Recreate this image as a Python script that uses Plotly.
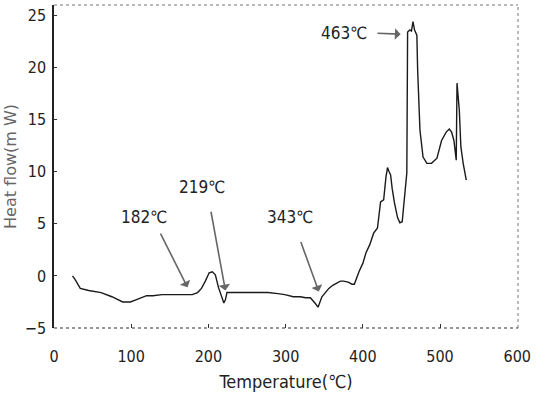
import plotly.graph_objects as go

temperature = [24, 27, 34, 45, 61, 75, 89, 99, 106, 112, 120, 128, 140, 160, 179, 186, 191, 196,
               201, 205, 209, 213, 217, 220, 222, 224, 230, 240, 260, 277, 290, 299, 310, 319,
               326, 332, 338, 342, 347, 352, 356, 361, 366, 371, 375, 381, 386, 389, 395, 400,
               404, 409, 414, 419, 423, 427, 430, 432, 434, 436, 438, 441, 445, 448, 451, 454,
               457, 458, 461, 463, 465, 467, 470, 471, 473, 474, 478, 483, 489, 496, 502, 508,
               512, 515, 518, 521, 522, 525, 527, 530, 534]
heat_flow = [0.0, -0.3, -1.2, -1.4, -1.6, -2.0, -2.5, -2.5, -2.3, -2.1, -1.9, -1.9, -1.8, -1.8,
             -1.8, -1.6, -1.2, -0.5, 0.3, 0.4, 0.1, -1.1, -1.9, -2.6, -2.3, -1.6, -1.6, -1.6,
             -1.6, -1.6, -1.7, -1.8, -2.0, -2.0, -2.1, -2.1, -2.6, -3.0, -2.0, -1.5, -1.2, -0.9,
             -0.7, -0.5, -0.5, -0.6, -0.8, -0.8, 0.4, 1.2, 2.2, 3.0, 4.1, 4.6, 7.1, 7.3, 9.5,
             10.4, 10.0, 9.7, 8.4, 7.0, 5.6, 5.1, 5.2, 7.3, 9.9, 23.4, 23.6, 23.5, 24.4, 23.6,
             23.1, 19.8, 14.7, 14.0, 11.4, 10.8, 10.8, 11.3, 13.0, 13.8, 14.1, 13.8, 13.0, 11.1,
             18.5, 15.9, 12.4, 10.8, 9.2]

x_ticks = [0, 100, 200, 300, 400, 500, 600]
y_ticks = [-5, 0, 5, 10, 15, 20, 25]

# annotation labels: text, text position, arrow tail, arrow head (data units)
labels = ["182℃", "219℃", "343℃", "463℃"]
label_x = [116, 192, 306, 376]
label_y = [5.7, 8.5, 5.7, 23.3]
tail_x = [137, 203, 319, 417]
tail_y = [4.2, 6.3, 3.4, 23.3]
head_x = [173, 222, 343, 449]
head_y = [-1.1, -1.4, -1.5, 23.2]

FONT = "DejaVu Sans Condensed, Liberation Sans Narrow, sans-serif"

fig = go.Figure()
fig.add_trace(go.Scatter(x=temperature, y=heat_flow, mode="lines",
                         line=dict(color="#1a1a1a", width=1.4), showlegend=False))

for t, lx, ly, tx, ty, hx, hy in zip(labels, label_x, label_y, tail_x, tail_y, head_x, head_y):
    fig.add_annotation(x=lx, y=ly, text=t, showarrow=False, xref="x", yref="y",
                       font=dict(family=FONT, size=17, color="#222"))
    fig.add_annotation(x=hx, y=hy, ax=tx, ay=ty, axref="x", ayref="y", xref="x", yref="y",
                       text="", showarrow=True, arrowhead=1, arrowsize=1.2,
                       arrowwidth=1.6, arrowcolor="#666")

# dotted frame on top, right, bottom
fig.add_shape(type="line", xref="paper", yref="paper", x0=0, x1=1, y0=1, y1=1,
              line=dict(color="#777", width=1, dash="dot"))
fig.add_shape(type="line", xref="paper", yref="paper", x0=1, x1=1, y0=0, y1=1,
              line=dict(color="#777", width=1, dash="dot"))
fig.add_shape(type="line", xref="paper", yref="paper", x0=0, x1=1, y0=0, y1=0,
              line=dict(color="#333", width=1.2, dash="dot"))

fig.update_layout(
    width=536, height=399,
    margin=dict(l=54, r=12, t=5, b=71),
    paper_bgcolor="white", plot_bgcolor="white",
    font=dict(family=FONT, size=16, color="#222"),
    xaxis=dict(range=[0, 601], tickvals=x_ticks, showgrid=False, zeroline=False,
               showline=False, ticks="inside", ticklen=4, tickcolor="#333",
               ticklabelstandoff=17, ticklabeloverflow="allow",
               title=dict(text="Temperature(℃)", font=dict(size=18), standoff=10)),
    yaxis=dict(range=[-5, 26], tickvals=y_ticks, showgrid=False, zeroline=False,
               showline=True, linecolor="#222", linewidth=1.5, ticks="inside",
               ticklen=3, tickcolor="#333", ticklabelstandoff=3,
               title=dict(text="Heat flow(m W)",
                          font=dict(family="DejaVu Sans", size=16, color="#666"), standoff=4)),
)

fig.write_html("out.html", config={"displayModeBar": False},
               post_script="document.body.style.margin='0';")
